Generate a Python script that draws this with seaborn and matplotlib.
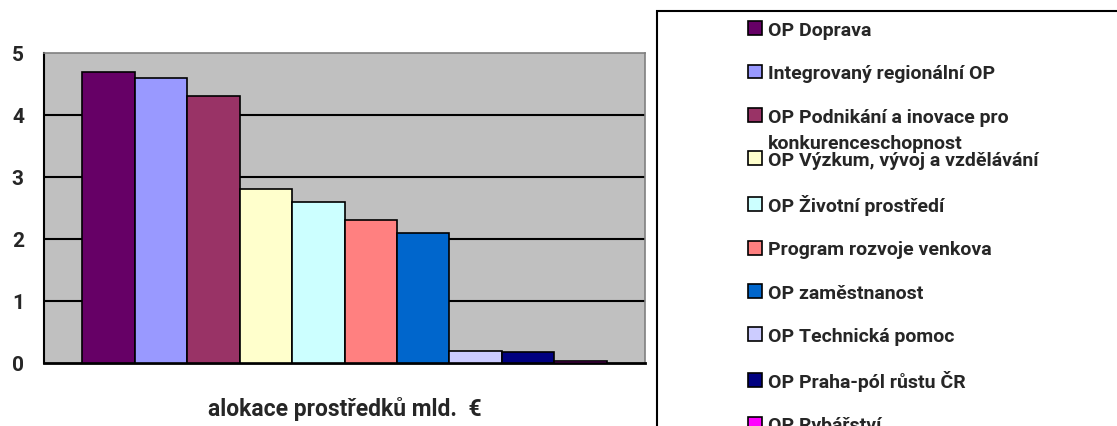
import pandas as pd
import matplotlib
matplotlib.use('Agg')
import matplotlib.pyplot as plt
import seaborn as sns
from matplotlib.patches import Rectangle

# Data
programmes = ['OP Doprava', 'Integrovaný regionální OP', 'OP Podnikání a inovace pro',
              'OP Výzkum, vývoj a vzdělávání', 'OP Životní prostředí', 'Program rozvoje venkova',
              'OP zaměstnanost', 'OP Technická pomoc', 'OP Praha-pól růstu ČR', 'OP Rybářství']
allocation = [4.7, 4.6, 4.3, 2.8, 2.6, 2.3, 2.1, 0.2, 0.18, 0.03]
bar_colors = ['#660066', '#9999FF', '#993366', '#FFFFCC', '#CCFFFF',
              '#FF8080', '#0066CC', '#CCCCFF', '#000080', '#FF00FF']
label_wrap = 'konkurenceschopnost'
x_title = 'alokace prostředků mld.  €'

df = pd.DataFrame({'group': [''] * len(programmes), 'programme': programmes, 'value': allocation})

sns.set_style('white')
plt.rcParams['font.family'] = ['Roboto', 'DejaVu Sans']
plt.rcParams['font.weight'] = 'bold'

fig = plt.figure(figsize=(11.17, 4.27), dpi=100)
ax = fig.add_axes([44 / 1117, 63 / 427, 601 / 1117, 310 / 427])
ax.set_facecolor('#C0C0C0')

sns.barplot(data=df, x='group', y='value', hue='programme', palette=bar_colors,
            width=0.872, saturation=1, edgecolor='black', linewidth=1.2,
            legend=False, ax=ax, zorder=3)

# Axes styling (Excel look)
ax.set_xlim(-0.5, 0.5)
ax.set_ylim(0, 5)
ax.set_yticks(range(0, 6))
ax.set_yticklabels([str(i) for i in range(0, 6)], fontsize=15, fontweight='bold')
ax.set_xticks([-0.5, 0.5])
ax.set_xticklabels(['', ''])
ax.tick_params(axis='both', direction='out', length=5.5, width=1.5, color='black', pad=9)
for y in range(1, 5):
    ax.axhline(y, color='black', linewidth=1.5, zorder=1)
ax.spines['left'].set_color('black')
ax.spines['left'].set_linewidth(1.5)
ax.spines['bottom'].set_color('black')
ax.spines['bottom'].set_linewidth(2)
for side in ['top', 'right']:
    ax.spines[side].set_color('#808080')
    ax.spines[side].set_linewidth(1.2)
ax.set_ylabel('')
ax.set_xlabel(x_title, fontsize=16.5, fontweight='bold', labelpad=9)

# Legend box (extends past figure edge like the reference)
fig.patches.append(Rectangle((657 / 1117, -0.1), 0.6, 1 - 12 / 427 + 0.1, transform=fig.transFigure,
                             facecolor='white', edgecolor='black', linewidth=1.5, zorder=0))

handles = [Rectangle((0, 0), 1, 1, facecolor=c, edgecolor='black', linewidth=1.2) for c in bar_colors]
leg = fig.legend(handles, programmes, loc='upper left', bbox_to_anchor=(748 / 1117, 1 - 22 / 427),
                 frameon=False, handlelength=0.72, handleheight=0.72,
                 handletextpad=0.3, labelspacing=1.3, borderpad=0, borderaxespad=0,
                 prop={'weight': 'bold', 'size': 14})

# second line of the wrapped third label, placed under that entry's text
fig.canvas.draw()
bb = leg.get_texts()[2].get_window_extent()
fig.text(bb.x0 / 1117, (bb.y0 - 8) / 427, label_wrap, fontsize=14, fontweight='bold',
         va='top', ha='left')

fig.savefig('out.png', dpi=100)
